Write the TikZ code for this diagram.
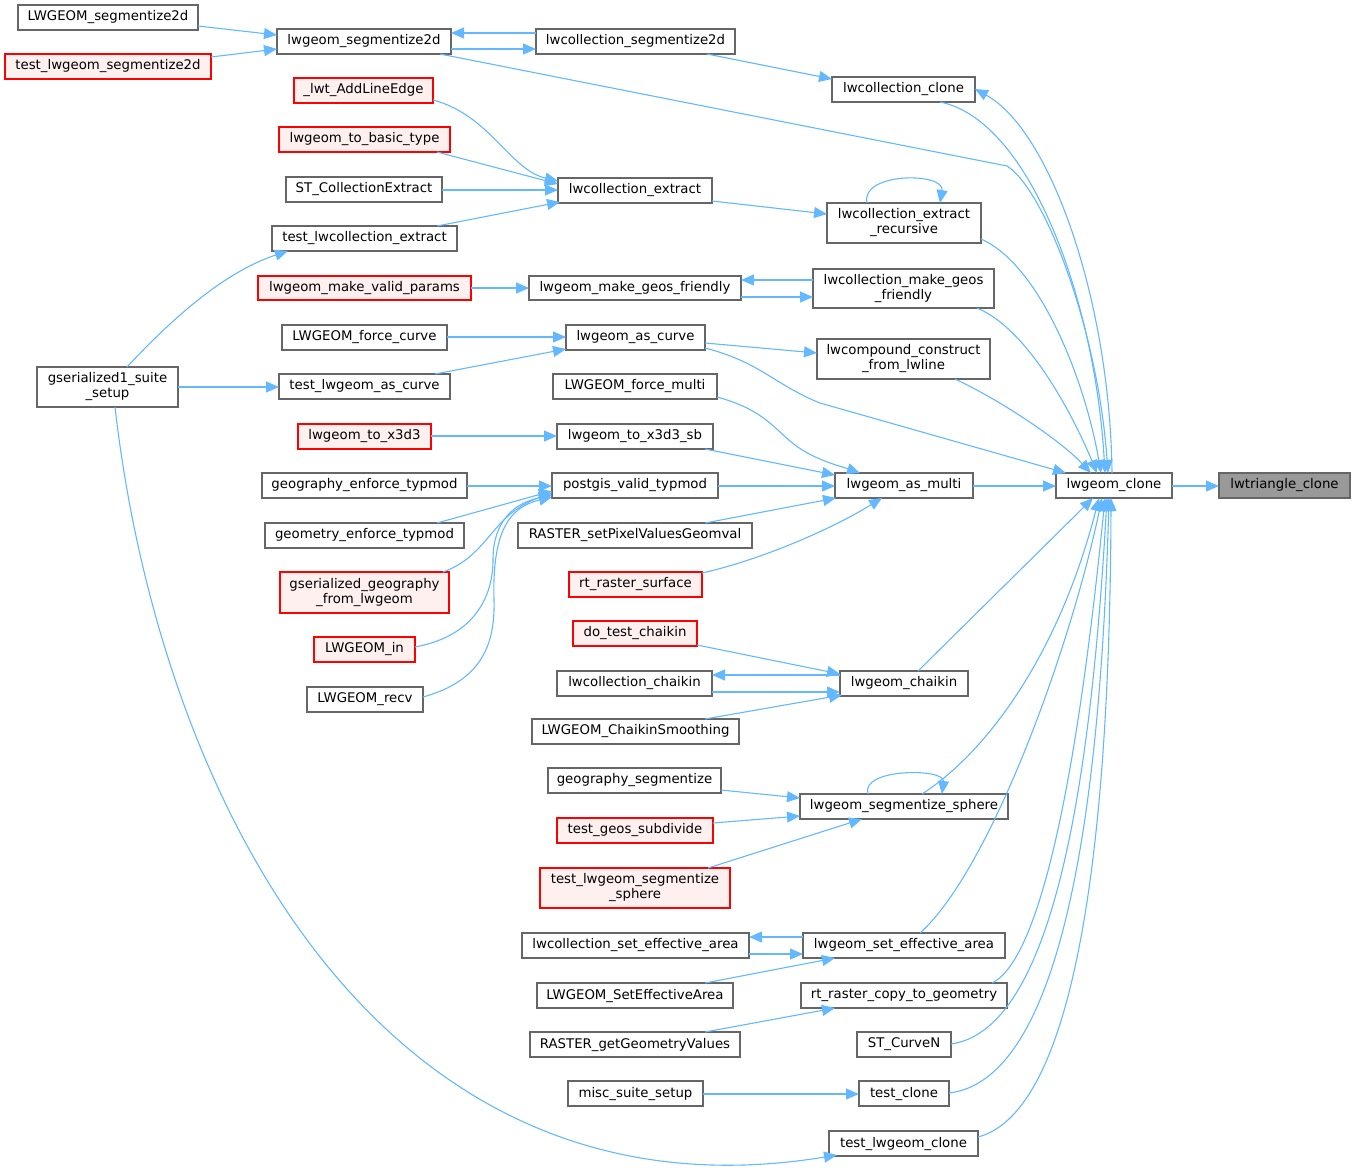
\documentclass[tikz,border=0pt]{standalone}
\usepackage{fontspec}
\setmainfont{DejaVu Sans}
\usetikzlibrary{arrows.meta,calc}
\definecolor{edgec}{HTML}{63B8FF}
\definecolor{boxc}{HTML}{666666}
\definecolor{redfill}{HTML}{FFF0F0}
\definecolor{rootfill}{HTML}{999999}
\newcommand\nd[7]{\node[#2, minimum width={#5-#3}, minimum height={#6-#4}] (#1) at ({(#3+#5)/2},{(#4+#6)/2}) {#7};}
\newcommand\cp[3]{($(#1.north west)+(#2,#3)$)}
\begin{document}
\begin{tikzpicture}[x=1pt,y=-1pt,
  fn/.style={draw=boxc, line width=1.2pt, fill=white, inner sep=0pt, outer sep=0pt, align=center, font=\fontsize{13.3}{15}\selectfont},
  fnred/.style={fn, draw=red, fill=redfill},
  fnroot/.style={fn, fill=rootfill},
  edge/.style={draw=edgec, line width=1.1pt, -{Triangle[length=13pt,width=11pt]}}]
\useasboundingbox (0,0) rectangle (1355,1171);
\nd{n01}{fn}{18}{5}{198}{30}{LWGEOM\_segmentize2d}
\nd{n02}{fnred}{5}{54}{211}{79}{test\_lwgeom\_segmentize2d}
\nd{n03}{fn}{277}{29}{451}{54}{lwgeom\_segmentize2d}
\nd{n04}{fn}{536}{29}{735}{54}{lwcollection\_segmentize2d}
\nd{n05}{fn}{832}{77}{975}{102}{lwcollection\_clone}
\nd{n06}{fnred}{294}{78}{433}{103}{\_lwt\_AddLineEdge}
\nd{n07}{fnred}{279}{127}{450}{152}{lwgeom\_to\_basic\_type}
\nd{n08}{fn}{286}{177}{442}{202}{ST\_CollectionExtract}
\nd{n09}{fn}{558}{178}{712}{203}{lwcollection\_extract}
\nd{n10}{fn}{827}{203}{981}{243}{lwcollection\_extract\\\_recursive}
\nd{n11}{fn}{272}{226}{457}{251}{test\_lwcollection\_extract}
\nd{n12}{fnred}{258}{276}{471}{300}{lwgeom\_make\_valid\_params}
\nd{n13}{fn}{529}{276}{741}{300}{lwgeom\_make\_geos\_friendly}
\nd{n14}{fn}{813}{269}{994}{308}{lwcollection\_make\_geos\\\_friendly}
\nd{n15}{fn}{282}{325}{447}{350}{LWGEOM\_force\_curve}
\nd{n16}{fn}{566}{325}{705}{350}{lwgeom\_as\_curve}
\nd{n17}{fn}{817}{339}{990}{379}{lwcompound\_construct\\\_from\_lwline}
\nd{n18}{fn}{37}{367}{178}{407}{gserialized1\_suite\\\_setup}
\nd{n19}{fn}{279}{374}{450}{399}{test\_lwgeom\_as\_curve}
\nd{n20}{fn}{553}{374}{717}{399}{LWGEOM\_force\_multi}
\nd{n21}{fnred}{298}{424}{431}{449}{lwgeom\_to\_x3d3}
\nd{n22}{fn}{557}{424}{713}{449}{lwgeom\_to\_x3d3\_sb}
\nd{n23}{fn}{262}{473}{467}{498}{geography\_enforce\_typmod}
\nd{n24}{fn}{552}{473}{718}{498}{postgis\_valid\_typmod}
\nd{n25}{fn}{835}{473}{973}{498}{lwgeom\_as\_multi}
\nd{n26}{fn}{1056}{473}{1172}{498}{lwgeom\_clone}
\nd{n27}{fnroot}{1219}{473}{1350}{498}{lwtriangle\_clone}
\nd{n28}{fn}{265}{523}{464}{548}{geometry\_enforce\_typmod}
\nd{n29}{fn}{518}{523}{752}{548}{RASTER\_setPixelValuesGeomval}
\nd{n30}{fnred}{280}{572}{449}{613}{gserialized\_geography\\\_from\_lwgeom}
\nd{n31}{fnred}{569}{572}{702}{597}{rt\_raster\_surface}
\nd{n32}{fnred}{314}{637}{415}{662}{LWGEOM\_in}
\nd{n33}{fnred}{573}{621}{697}{646}{do\_test\_chaikin}
\nd{n34}{fn}{557}{671}{712}{696}{lwcollection\_chaikin}
\nd{n35}{fn}{840}{671}{968}{696}{lwgeom\_chaikin}
\nd{n36}{fn}{307}{687}{423}{712}{LWGEOM\_recv}
\nd{n37}{fn}{532}{719}{739}{744}{LWGEOM\_ChaikinSmoothing}
\nd{n38}{fn}{548}{768}{721}{793}{geography\_segmentize}
\nd{n39}{fn}{800}{794}{1008}{819}{lwgeom\_segmentize\_sphere}
\nd{n40}{fnred}{557}{818}{713}{843}{test\_geos\_subdivide}
\nd{n41}{fnred}{540}{868}{730}{908}{test\_lwgeom\_segmentize\\\_sphere}
\nd{n42}{fn}{522}{933}{749}{958}{lwcollection\_set\_effective\_area}
\nd{n43}{fn}{803}{933}{1005}{958}{lwgeom\_set\_effective\_area}
\nd{n44}{fn}{537}{983}{733}{1008}{LWGEOM\_SetEffectiveArea}
\nd{n45}{fn}{801}{983}{1007}{1008}{rt\_raster\_copy\_to\_geometry}
\nd{n46}{fn}{530}{1032}{740}{1057}{RASTER\_getGeometryValues}
\nd{n47}{fn}{857}{1032}{951}{1057}{ST\_CurveN}
\nd{n48}{fn}{568}{1081}{703}{1106}{misc\_suite\_setup}
\nd{n49}{fn}{859}{1081}{949}{1106}{test\_clone}
\nd{n50}{fn}{829}{1131}{978}{1156}{test\_lwgeom\_clone}
% edges
\draw[edge] \cp{n01}{180}{21} -- \cp{n03}{0}{6};
\draw[edge] \cp{n02}{206}{3} -- \cp{n03}{0}{20};
\draw[edge] \cp{n04}{0}{4} -- \cp{n03}{174}{4};
\draw[edge] \cp{n03}{174}{20} -- \cp{n04}{0}{20};
\draw[edge] \cp{n03}{163}{25} -- (1007,166) .. controls (1045,190) and (1098,330) .. \cp{n26}{52}{0};
\draw[edge] \cp{n04}{171}{25} -- \cp{n05}{0}{2};
\draw[edge] \cp{n05}{108}{25} .. controls (1030,120) and (1095,300) .. \cp{n26}{49}{0};
\draw[edge] \cp{n26}{56}{0} .. controls (1110,300) and (1050,130) .. \cp{n05}{143}{12};
\draw[edge] \cp{n06}{139}{22} .. controls (490,115) and (510,170) .. \cp{n09}{0}{3};
\draw[edge] \cp{n07}{158}{25} -- \cp{n09}{0}{6};
\draw[edge] \cp{n08}{156}{13} -- \cp{n09}{0}{12};
\draw[edge] \cp{n11}{165}{0} -- \cp{n09}{2}{24};
\draw[edge] \cp{n09}{154}{23} -- \cp{n10}{0}{11};
\draw[edge] \cp{n10}{40}{0} .. controls (860,172) and (945,172) .. \cp{n10}{113}{0};
\draw[edge] \cp{n10}{154}{36} .. controls (1040,265) and (1085,380) .. \cp{n26}{45}{0};
\draw[edge] \cp{n18}{90}{0} .. controls (180,310) and (230,270) .. \cp{n11}{16}{25};
\draw[edge] \cp{n18}{141}{20} -- \cp{n19}{0}{13};
\draw[edge] \cp{n18}{78}{40} .. controls (160,800) and (380,1230) .. \cp{n50}{8}{24};
\draw[edge] \cp{n12}{213}{12} -- \cp{n13}{0}{12};
\draw[edge] \cp{n14}{0}{11} -- \cp{n13}{212}{4};
\draw[edge] \cp{n13}{212}{21} -- \cp{n14}{0}{28};
\draw[edge] \cp{n14}{164}{39} .. controls (1030,330) and (1075,420) .. \cp{n26}{41}{0};
\draw[edge] \cp{n15}{165}{12} -- \cp{n16}{0}{12};
\draw[edge] \cp{n19}{156}{0} -- \cp{n16}{0}{24};
\draw[edge] \cp{n16}{139}{18} -- \cp{n17}{0}{14};
\draw[edge] \cp{n16}{139}{23} .. controls (760,362) and (775,385) .. (820,403) -- \cp{n26}{10}{0};
\draw[edge] \cp{n17}{138}{40} .. controls (1000,400) and (1060,440) .. \cp{n26}{35}{0};
\draw[edge] \cp{n20}{164}{23} .. controls (765,410) and (775,430) .. (795,445) .. controls (815,460) and (840,466) .. \cp{n25}{25}{0};
\draw[edge] \cp{n21}{133}{12} -- \cp{n22}{0}{12};
\draw[edge] \cp{n22}{148}{25} -- \cp{n25}{0}{2};
\draw[edge] \cp{n24}{166}{13} -- \cp{n25}{0}{13};
\draw[edge] \cp{n29}{187}{0} -- \cp{n25}{1}{25};
\draw[edge] \cp{n31}{133}{1} .. controls (760,560) and (830,530) .. \cp{n25}{47}{25};
\draw[edge] \cp{n25}{138}{13} -- \cp{n26}{0}{13};
\draw[edge] \cp{n23}{205}{13} -- \cp{n24}{0}{13};
\draw[edge] \cp{n28}{172}{0} -- \cp{n24}{0}{18};
\draw[edge] \cp{n30}{163}{0} .. controls (490,555) and (490,515) .. \cp{n24}{0}{20};
\draw[edge] \cp{n32}{101}{10} .. controls (480,635) and (493,590) .. (493,560) .. controls (493,520) and (515,503) .. \cp{n24}{0}{22};
\draw[edge] \cp{n36}{116}{10} .. controls (485,680) and (495,640) .. (494,600) .. controls (492,530) and (510,507) .. \cp{n24}{0}{24};
\draw[edge] \cp{n33}{124}{24} -- \cp{n35}{0}{3};
\draw[edge] \cp{n35}{0}{4} -- \cp{n34}{155}{4};
\draw[edge] \cp{n34}{155}{21} -- \cp{n35}{0}{21};
\draw[edge] \cp{n37}{173}{0} -- \cp{n35}{2}{24};
\draw[edge] \cp{n35}{78}{0} -- \cp{n26}{37}{25};
\draw[edge] \cp{n38}{173}{22} -- \cp{n39}{0}{4};
\draw[edge] \cp{n40}{156}{5} -- \cp{n39}{0}{22};
\draw[edge] \cp{n41}{168}{0} -- \cp{n39}{62}{25};
\draw[edge] \cp{n39}{68}{0} .. controls (860,768) and (945,768) .. \cp{n39}{142}{0};
\draw[edge] \cp{n39}{122}{0} .. controls (990,750) and (1060,650) .. \cp{n26}{43}{25};
\draw[edge] \cp{n43}{0}{4} -- \cp{n42}{227}{4};
\draw[edge] \cp{n42}{227}{21} -- \cp{n43}{0}{21};
\draw[edge] \cp{n44}{168}{0} -- \cp{n43}{32}{25};
\draw[edge] \cp{n43}{117}{0} .. controls (990,870) and (1070,650) .. \cp{n26}{46}{25};
\draw[edge] \cp{n46}{175}{0} -- \cp{n45}{34}{25};
\draw[edge] \cp{n45}{191}{0} .. controls (1050,955) and (1085,700) .. \cp{n26}{49}{25};
\draw[edge] \cp{n47}{94}{12} .. controls (1050,1030) and (1090,800) .. \cp{n26}{51}{25};
\draw[edge] \cp{n48}{135}{13} -- \cp{n49}{0}{13};
\draw[edge] \cp{n49}{90}{12} .. controls (1060,1080) and (1100,820) .. \cp{n26}{53}{25};
\draw[edge] \cp{n50}{149}{6} .. controls (1080,1110) and (1110,820) .. \cp{n26}{55}{25};
\draw[edge] \cp{n26}{116}{13} -- \cp{n27}{0}{13};
\end{tikzpicture}
\end{document}
